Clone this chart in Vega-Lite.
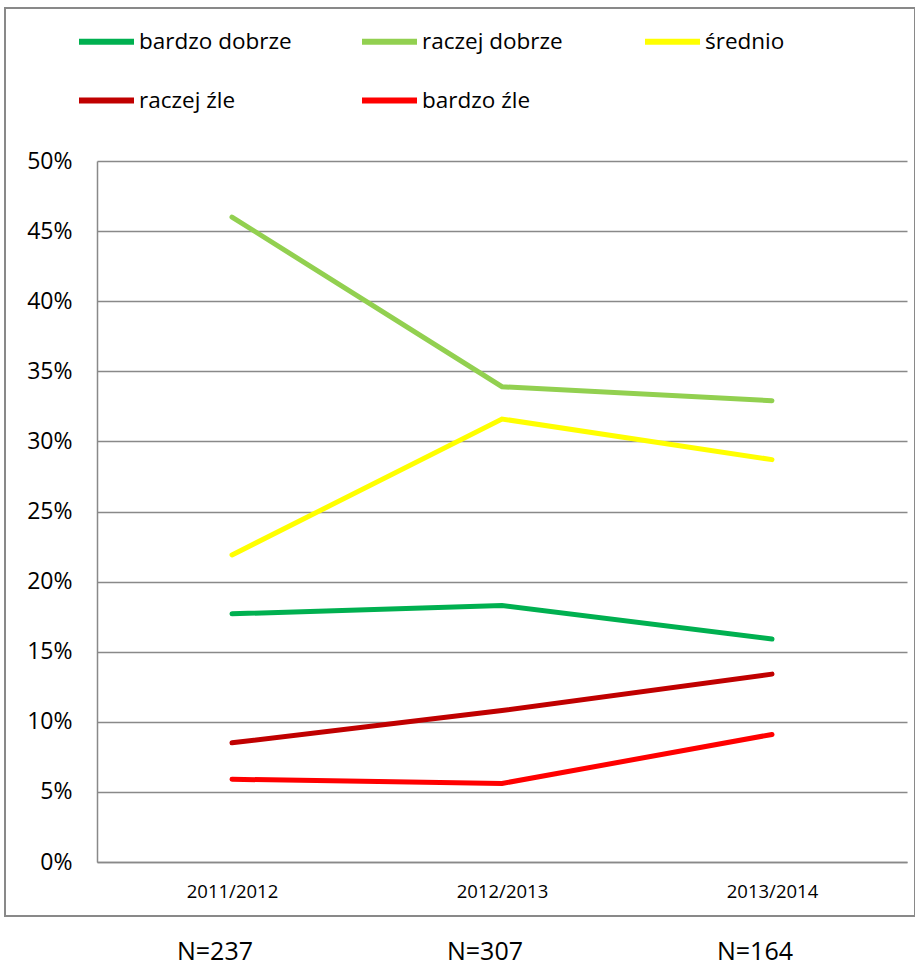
{
  "$schema": "https://vega.github.io/schema/vega-lite/v6.json",
  "width": 910,
  "height": 908,
  "autosize": {"type": "none"},
  "padding": {"left": 5, "top": 8, "right": 0, "bottom": 51},
  "background": "white",
  "config": {
    "view": {"stroke": "#898989", "strokeWidth": 2},
    "font": "Open Sans"
  },
  "datasets": {
    "series": [
      {"year": "2011/2012", "category": "bardzo dobrze", "value": 0.177},
      {"year": "2012/2013", "category": "bardzo dobrze", "value": 0.183},
      {"year": "2013/2014", "category": "bardzo dobrze", "value": 0.159},
      {"year": "2011/2012", "category": "raczej dobrze", "value": 0.460},
      {"year": "2012/2013", "category": "raczej dobrze", "value": 0.339},
      {"year": "2013/2014", "category": "raczej dobrze", "value": 0.329},
      {"year": "2011/2012", "category": "średnio", "value": 0.219},
      {"year": "2012/2013", "category": "średnio", "value": 0.316},
      {"year": "2013/2014", "category": "średnio", "value": 0.287},
      {"year": "2011/2012", "category": "raczej źle", "value": 0.085},
      {"year": "2012/2013", "category": "raczej źle", "value": 0.108},
      {"year": "2013/2014", "category": "raczej źle", "value": 0.134},
      {"year": "2011/2012", "category": "bardzo źle", "value": 0.059},
      {"year": "2012/2013", "category": "bardzo źle", "value": 0.056},
      {"year": "2013/2014", "category": "bardzo źle", "value": 0.091}
    ],
    "counts": [
      {"year": "2011/2012", "label": "N=237"},
      {"year": "2012/2013", "label": "N=307"},
      {"year": "2013/2014", "label": "N=164"}
    ]
  },
  "layer": [
    {
      "data": {"name": "series"},
      "mark": {"type": "line", "strokeWidth": 5, "strokeCap": "round"},
      "encoding": {
        "x": {
          "field": "year",
          "type": "ordinal",
          "title": null,
          "scale": {"type": "point", "range": [92, 902], "padding": 0.5},
          "axis": {
            "title": null,
            "orient": "bottom",
            "offset": -54,
            "domainColor": "#898989",
            "domainWidth": 1.5,
            "ticks": false,
            "tickSize": 0,
            "grid": false,
            "labelAngle": 0,
            "labelFontSize": 18.5,
            "labelColor": "black",
            "labelPadding": 20
          }
        },
        "y": {
          "field": "value",
          "type": "quantitative",
          "title": null,
          "scale": {"domain": [0, 0.5], "range": [854, 153], "nice": false, "zero": false},
          "axis": {
            "title": null,
            "values": [0, 0.05, 0.1, 0.15, 0.2, 0.25, 0.3, 0.35, 0.4, 0.45, 0.5],
            "format": ".0%",
            "offset": -92,
            "domainColor": "#898989",
            "domainWidth": 1.5,
            "ticks": false,
            "tickSize": 0,
            "grid": true,
            "gridColor": "#898989",
            "gridWidth": 1.5,
            "labelFontSize": 23,
            "labelColor": "black",
            "labelPadding": 25
          }
        },
        "color": {
          "field": "category",
          "type": "nominal",
          "scale": {
            "domain": ["bardzo dobrze", "raczej dobrze", "średnio", "raczej źle", "bardzo źle"],
            "range": ["#00B050", "#92D050", "#FFFF00", "#C00000", "#FF0000"]
          },
          "legend": {
            "orient": "none",
            "legendX": 71,
            "legendY": 3,
            "direction": "horizontal",
            "columns": 3,
            "title": null,
            "symbolType": "stroke",
            "symbolSize": 3025,
            "symbolStrokeWidth": 6,
            "labelFontSize": 22.5,
            "labelColor": "black",
            "labelOffset": 2,
            "labelLimit": 300,
            "columnPadding": 58,
            "rowPadding": 16,
            "gridAlign": "all",
            "padding": 0
          }
        }
      }
    },
    {
      "data": {"name": "counts"},
      "mark": {"type": "text", "fontSize": 25, "dx": -17, "baseline": "alphabetic", "color": "black"},
      "encoding": {
        "x": {"field": "year", "type": "ordinal", "title": null},
        "y": {"datum": -0.07, "type": "quantitative", "title": null},
        "text": {"field": "label"}
      }
    }
  ]
}
